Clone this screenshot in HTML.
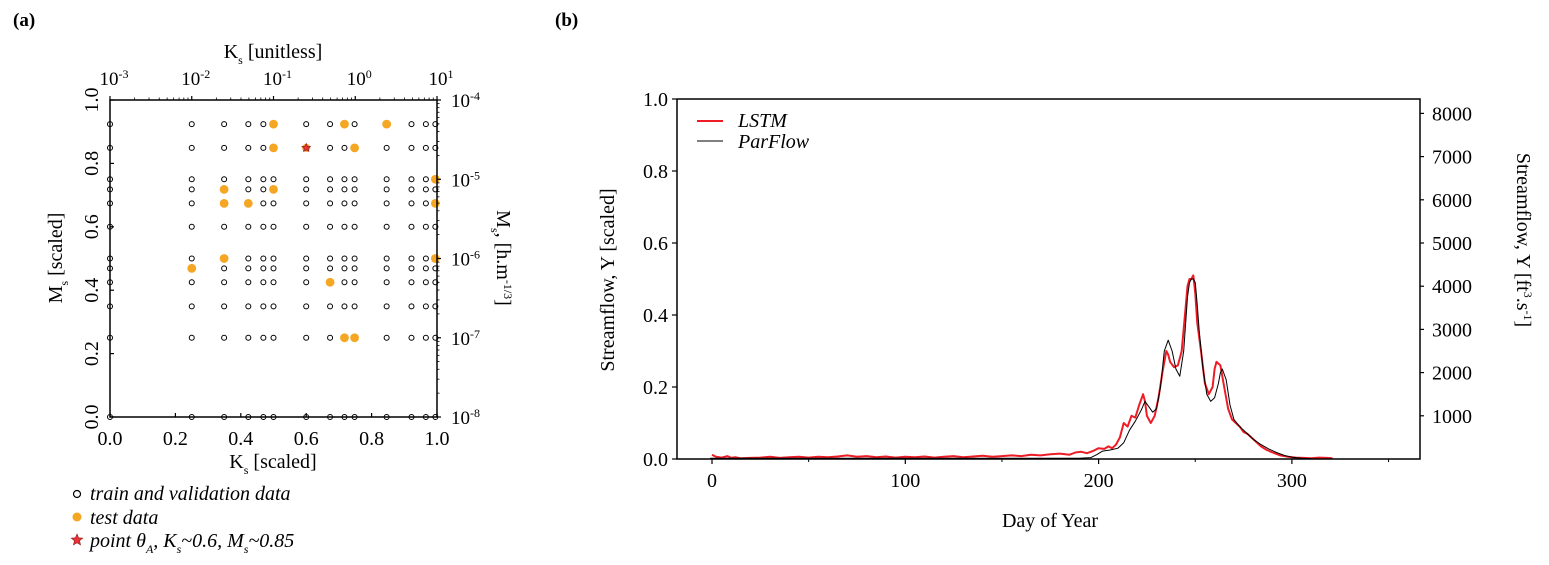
<!DOCTYPE html>
<html><head><meta charset="utf-8"><style>
html,body{margin:0;padding:0;background:#fff;}
svg{display:block;font-family:"Liberation Serif",serif;}
</style></head><body>
<svg id="fig" width="1549" height="565" viewBox="0 0 1549 565">
<text x="13" y="26" font-size="19" font-weight="bold">(a)</text>
<text x="555" y="26" font-size="19" font-weight="bold">(b)</text>
<g id="pa"></g>
<g id="pb"></g>
</svg>
<script>
// ---------- Panel (a) data ----------
const gridKs = [0,0.25,0.349,0.423,0.469,0.5,0.6,0.673,0.717,0.748,0.846,0.922,0.966,0.995];
const gridMs = [0,0.25,0.349,0.425,0.469,0.5,0.6,0.674,0.718,0.75,0.849,0.924];
const testKs = [0.5,0.717,0.846,0.5,0.748,0.995,0.349,0.5,0.349,0.423,0.995,0.349,0.995,0.25,0.673,0.717,0.748];
const testMs = [0.924,0.924,0.924,0.849,0.849,0.75,0.718,0.718,0.674,0.674,0.674,0.5,0.5,0.469,0.425,0.25,0.25];
const starKs = [0.6];
const starMs = [0.849];
const aTicks = [0,0.2,0.4,0.6,0.8,1.0];
const aTickLabels = ["0.0","0.2","0.4","0.6","0.8","1.0"];
const topExp = [-3,-2,-1,0,1];
const rightExp = [-4,-5,-6,-7,-8];

// ---------- Panel (b) data ----------
const parDays = [-1,10,50,100,150,190,196,199,202,206,210,213,216,219,222,224,226,228,230,232,234,236,238,240,242,244,246,247,248,249,250,251,252,254,256,258,260,262,263,264,266,268,270,273,276,280,284,288,292,296,300,305,310];
const parVals = [0.002,0.002,0.002,0.002,0.002,0.002,0.004,0.012,0.022,0.025,0.03,0.045,0.08,0.105,0.135,0.16,0.145,0.13,0.14,0.2,0.3,0.33,0.3,0.25,0.23,0.3,0.45,0.49,0.5,0.5,0.49,0.43,0.36,0.25,0.18,0.16,0.17,0.21,0.24,0.25,0.22,0.15,0.11,0.09,0.075,0.055,0.04,0.028,0.018,0.01,0.005,0.002,0.001];
const lstmDays = [0,2,5,8,10,12,15,20,25,30,35,40,45,50,55,60,65,70,75,80,85,90,95,100,105,110,115,120,125,130,135,140,145,150,155,160,165,170,175,180,185,188,191,194,197,200,203,205,207,209,211,213,215,217,219,221,223,224,225,227,229,231,233,235,236,237,239,241,243,245,246,247,248,249,250,251,253,255,257,259,260,261,263,265,267,269,271,273,275,277,279,281,284,287,290,294,298,302,306,310,314,318,321];
const lstmVals = [0.012,0.006,0.004,0.008,0.003,0.005,0.002,0.003,0.004,0.006,0.003,0.005,0.006,0.004,0.006,0.005,0.007,0.01,0.006,0.008,0.005,0.007,0.004,0.006,0.005,0.007,0.004,0.006,0.008,0.005,0.007,0.009,0.006,0.008,0.01,0.008,0.012,0.01,0.013,0.015,0.012,0.018,0.02,0.016,0.022,0.03,0.028,0.035,0.03,0.04,0.06,0.1,0.09,0.12,0.115,0.15,0.18,0.16,0.12,0.1,0.12,0.17,0.24,0.3,0.29,0.27,0.255,0.26,0.3,0.42,0.48,0.5,0.5,0.51,0.46,0.38,0.3,0.21,0.18,0.2,0.25,0.27,0.26,0.2,0.14,0.11,0.1,0.09,0.075,0.07,0.06,0.05,0.035,0.025,0.018,0.01,0.006,0.004,0.003,0.002,0.004,0.003,0.002];
const bXTicks = [0,100,200,300];
const bYTicks = [0,0.2,0.4,0.6,0.8,1.0];
const bYTickLabels = ["0.0","0.2","0.4","0.6","0.8","1.0"];
const rTicks = [1000,2000,3000,4000,5000,6000,7000,8000];

const NS="http://www.w3.org/2000/svg";
function mk(parent,tag,attrs,text){const e=document.createElementNS(NS,tag);for(const k in attrs)e.setAttribute(k,attrs[k]);if(text!==undefined)e.textContent=text;parent.appendChild(e);return e;}

// ===== Panel A =====
const pa=document.getElementById('pa');
const aL=110,aR=437,aT=100,aB=417;
const ax=v=>aL+v*(aR-aL), ay=v=>aB-v*(aB-aT);
gridKs.forEach(k=>gridMs.forEach(m=>{
  const c=mk(pa,'circle',{cx:ax(k),cy:ay(m),r:2.5,fill:'#fff',stroke:'#000','stroke-width':1});
  
  
}));
testKs.forEach((k,i)=>{
  const c=mk(pa,'circle',{cx:ax(k),cy:ay(testMs[i]),r:4.4,fill:'#f5a623'});
  
  
});
function star(g,cx,cy,r){let p='';for(let i=0;i<10;i++){const a=-Math.PI/2+i*Math.PI/5;const rr=i%2?r*0.45:r;p+=(i?'L':'M')+(cx+rr*Math.cos(a)).toFixed(2)+' '+(cy+rr*Math.sin(a)).toFixed(2);}return mk(g,'path',{d:p+'Z',fill:'#e8343a',stroke:'#8a1a1a','stroke-width':0.6});}
starKs.forEach((k,i)=>{
  const c=mk(pa,'circle',{cx:ax(k),cy:ay(starMs[i]),r:4,fill:'#f5a623'});
  
  
  const s=star(pa,ax(k),ay(starMs[i]),4.5);
  
  });
const fr=mk(pa,'rect',{x:aL,y:aT,width:aR-aL,height:aB-aT,fill:'none',stroke:'#000','stroke-width':1.5});


aTicks.forEach((t,i)=>{
  mk(pa,'line',{x1:ax(t),x2:ax(t),y1:aB,y2:aB-4,stroke:'#000','stroke-width':1.2});
  mk(pa,'line',{x1:aL,x2:aL+4,y1:ay(t),y2:ay(t),stroke:'#000','stroke-width':1.2});
  const tx=mk(pa,'text',{x:ax(t),y:aB+28,'font-size':20,'text-anchor':'middle'},aTickLabels[i]);
  
  
  const ty=mk(pa,'text',{x:0,y:0,'font-size':20,'text-anchor':'middle',transform:`translate(${aL-12},${ay(t)}) rotate(-90)`},aTickLabels[i]);
  
  
});
topExp.forEach((e,i)=>{
  const x=ax((e+3)/4);
  mk(pa,'line',{x1:x,x2:x,y1:aT,y2:aT-4,stroke:'#000','stroke-width':1.2});
  if(e<1)for(let m=2;m<10;m++){const xm=ax((e+Math.log10(m)+3)/4);mk(pa,'line',{x1:xm,x2:xm,y1:aT,y2:aT-2.5,stroke:'#000','stroke-width':0.8});}
  const t=mk(pa,'text',{x:x+4,y:aT-15,'font-size':19,'text-anchor':'middle'});
  
  
  mk(t,'tspan',{},'10');mk(t,'tspan',{dy:-7,'font-size':12},String(e));
});
rightExp.forEach((e,i)=>{
  const y=ay((e+8)/4);
  mk(pa,'line',{x1:aR,x2:aR+4,y1:y,y2:y,stroke:'#000','stroke-width':1.2});
  if(e>-8)for(let m=2;m<10;m++){const ym=ay((e-1+Math.log10(m)+8)/4);mk(pa,'line',{x1:aR,x2:aR+2.5,y1:ym,y2:ym,stroke:'#000','stroke-width':0.8});}
  const t=mk(pa,'text',{x:aR+14,y:y+7,'font-size':19});
  
  
  mk(t,'tspan',{},'10');mk(t,'tspan',{dy:-7,'font-size':12},String(e));
});
let tt=mk(pa,'text',{x:273,y:58,'font-size':20,'text-anchor':'middle'});


mk(tt,'tspan',{},'K');mk(tt,'tspan',{dy:6,'font-size':12},'s');mk(tt,'tspan',{dy:-6},' [unitless]');
tt=mk(pa,'text',{x:273,y:468,'font-size':20,'text-anchor':'middle'});


mk(tt,'tspan',{},'K');mk(tt,'tspan',{dy:6,'font-size':12},'s');mk(tt,'tspan',{dy:-6},' [scaled]');
tt=mk(pa,'text',{x:0,y:0,'font-size':20,'text-anchor':'middle',transform:'translate(62,258) rotate(-90)'});


mk(tt,'tspan',{},'M');mk(tt,'tspan',{dy:6,'font-size':12},'s');mk(tt,'tspan',{dy:-6},' [scaled]');
tt=mk(pa,'text',{x:0,y:0,'font-size':20,'text-anchor':'middle',transform:'translate(497,258) rotate(90)'});


mk(tt,'tspan',{},'M');mk(tt,'tspan',{dy:6,'font-size':12},'s');mk(tt,'tspan',{dy:-6},', [h.m');mk(tt,'tspan',{dy:-7,'font-size':12},'-1/3');mk(tt,'tspan',{dy:7},']');
const lg=mk(pa,'g',{});


mk(lg,'circle',{cx:77,cy:494,r:3.5,fill:'#fff',stroke:'#000','stroke-width':1.2});
mk(lg,'text',{x:90,y:500,'font-size':20,'font-style':'italic'},'train and validation data');
mk(lg,'circle',{cx:77,cy:517,r:4.5,fill:'#f5a623'});
mk(lg,'text',{x:90,y:524,'font-size':20,'font-style':'italic'},'test data');
star(lg,77,540,6);
let lt=mk(lg,'text',{x:90,y:547,'font-size':20,'font-style':'italic'});
mk(lt,'tspan',{},'point θ');mk(lt,'tspan',{dy:6,'font-size':12},'A');mk(lt,'tspan',{dy:-6},', K');mk(lt,'tspan',{dy:6,'font-size':12},'s');mk(lt,'tspan',{dy:-6},'~0.6, M');mk(lt,'tspan',{dy:6,'font-size':12},'s');mk(lt,'tspan',{dy:-6},'~0.85');

// ===== Panel B =====
const pb=document.getElementById('pb');
const bL=677,bR=1420,bT=99,bB=459;
const bx=d=>712+d*1.933, by=v=>bB-v*(bB-bT);
const byR=v=>bB-v*0.0432;
function series(days,vals,color,w,name){
  let d='';days.forEach((x,i)=>{d+=(i?'L':'M')+bx(x).toFixed(1)+' '+by(vals[i]).toFixed(1);});
  const p=mk(pb,'path',{d:d,fill:'none',stroke:color,'stroke-width':w,'stroke-linejoin':'round'});
  
  
}
series(lstmDays,lstmVals,'#ee1c25',2,'lstm-line');
series(parDays,parVals,'#000',1,'parflow-line');
const fb=mk(pb,'path',{d:`M${bL} ${bT}V${bB}H${bR}V${bT}H${bL}`,fill:'none',stroke:'#000','stroke-width':1.5});


bXTicks.forEach(t=>{
  mk(pb,'line',{x1:bx(t),x2:bx(t),y1:bB,y2:bB+5,stroke:'#000','stroke-width':1.2});
  mk(pb,'line',{x1:bx(t+50),x2:bx(t+50),y1:bB,y2:bB+3,stroke:'#000','stroke-width':1});
  const tx=mk(pb,'text',{x:bx(t),y:bB+28,'font-size':20,'text-anchor':'middle'},String(t));
  
  
});
bYTicks.forEach((t,i)=>{
  mk(pb,'line',{x1:bL,x2:bL-5,y1:by(t),y2:by(t),stroke:'#000','stroke-width':1.2});
  const ty=mk(pb,'text',{x:bL-9,y:by(t)+7,'font-size':20,'text-anchor':'end'},bYTickLabels[i]);
  
  
});
rTicks.forEach(t=>{
  mk(pb,'line',{x1:bR,x2:bR+4,y1:byR(t),y2:byR(t),stroke:'#000','stroke-width':1.2});
  const ty=mk(pb,'text',{x:bR+12,y:byR(t)+7,'font-size':20},String(t));
  
  
});
tt=mk(pb,'text',{x:1050,y:527,'font-size':20,'text-anchor':'middle'},'Day of Year');


tt=mk(pb,'text',{x:0,y:0,'font-size':20,'text-anchor':'middle',transform:'translate(614,280) rotate(-90)'},'Streamflow, Y [scaled]');


tt=mk(pb,'text',{x:0,y:0,'font-size':20,'text-anchor':'middle',transform:'translate(1517,240) rotate(90)'});


mk(tt,'tspan',{},'Streamflow, Y [ft');mk(tt,'tspan',{dy:-7,'font-size':12},'3');mk(tt,'tspan',{dy:7},'.s');mk(tt,'tspan',{dy:-7,'font-size':12},'-1');mk(tt,'tspan',{dy:7},']');
const lb=mk(pb,'g',{});


mk(lb,'line',{x1:697,x2:723,y1:121,y2:121,stroke:'#ee1c25','stroke-width':2});
mk(lb,'text',{x:738,y:127,'font-size':20,'font-style':'italic'},'LSTM');
mk(lb,'line',{x1:697,x2:723,y1:141,y2:141,stroke:'#000','stroke-width':1});
mk(lb,'text',{x:738,y:148,'font-size':20,'font-style':'italic'},'ParFlow');
</script>
</body></html>
